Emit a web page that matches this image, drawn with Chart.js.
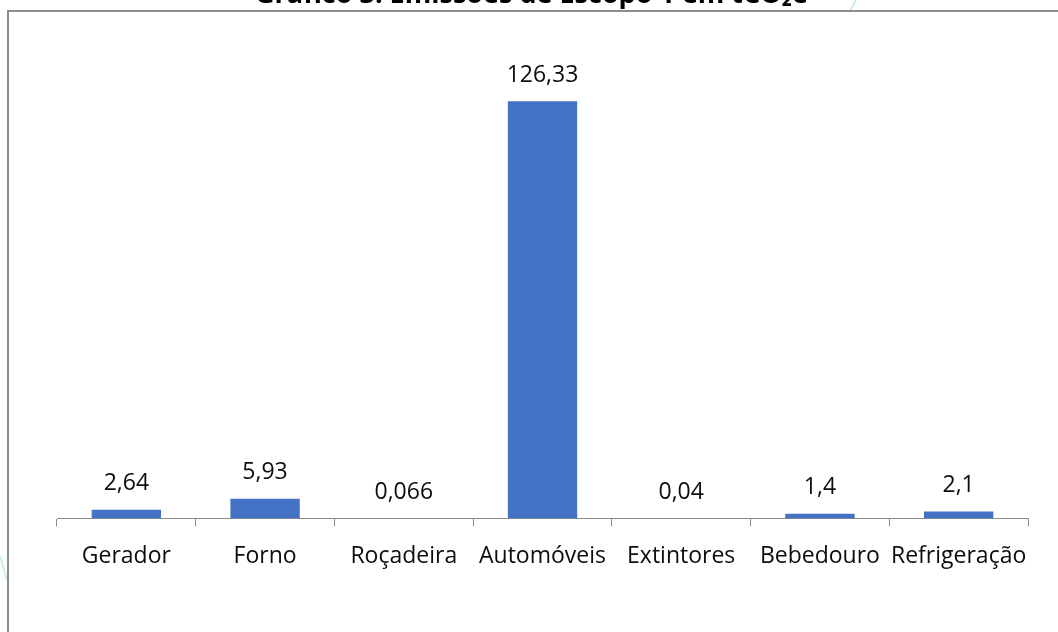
<!DOCTYPE html>
<html>
<head>
<meta charset="utf-8">
<script src="https://cdn.jsdelivr.net/npm/chart.js@4.4.1/dist/chart.umd.min.js"></script>
<style>
    body { margin: 0; background: #ffffff; width: 1058px; height: 632px; overflow: hidden; position: relative; }
    #wrap { position: absolute; left: 0; top: -20px; width: 1058px; height: 652px; }
    #frame { position: absolute; left: 7px; top: 10px; width: 1200px; height: 700px; border-left: 2px solid #8c8c8c; border-top: 2px solid #8c8c8c; }
    #deco { position: absolute; left: 0; top: 0; }
</style>
</head>
<body>
<svg id="deco" width="1058" height="632">
    <line x1="856" y1="0" x2="850" y2="11" stroke="#c8eeee" stroke-width="2"/>
    <line x1="0" y1="556" x2="7" y2="580" stroke="#c8eeee" stroke-width="2"/>
</svg>
<div id="frame"></div>
<div id="wrap"><canvas id="chart" width="1058" height="652"></canvas></div>
<script>
const categories = ["Gerador", "Forno", "Roçadeira", "Automóveis", "Extintores", "Bebedouro", "Refrigeração"];
const emissions = [2.64, 5.93, 0.066, 126.33, 0.04, 1.4, 2.1];
const valueLabels = ["2,64", "5,93", "0,066", "126,33", "0,04", "1,4", "2,1"];
const chartTitle = "Gráfico 3: Emissões de Escopo 1 em tCO₂e";

// writes the value above each bar, like excel "outside end"
const barLabels = {
    id: 'barLabels',
    afterDatasetsDraw(chart) {
        const ctx = chart.ctx;
        const bars = chart.getDatasetMeta(0).data;
        ctx.save();
        ctx.font = '23px "Open Sans"';
        ctx.fillStyle = '#0d0d0d';
        ctx.textAlign = 'center';
        ctx.textBaseline = 'middle';
        bars.forEach((bar, i) => {
            ctx.fillText(valueLabels[i], bar.x, bar.y - 26);
        });
        ctx.restore();
    }
};

const ctx = document.getElementById('chart').getContext('2d');
const emissionsChart = new Chart(ctx, {
    type: 'bar',
    data: {
        labels: categories,
        datasets: [{
            data: emissions,
            backgroundColor: '#4472c4',
            borderWidth: 0,
            barPercentage: 0.5,
            categoryPercentage: 1
        }]
    },
    options: {
        responsive: false,
        animation: false,
        layout: {
            padding: { left: 35, right: 30, top: 0, bottom: 46 }
        },
        plugins: {
            legend: { display: false },
            tooltip: { enabled: false },
            title: {
                display: true,
                text: chartTitle,
                color: '#000000',
                font: { family: '"Open Sans"', size: 27, weight: 'bold', lineHeight: 1 },
                padding: { top: 2, bottom: 47 }
            }
        },
        scales: {
            x: {
                grid: {
                    display: true,
                    drawOnChartArea: false,
                    drawTicks: true,
                    tickLength: 8,
                    color: '#8c8c8c',
                    offset: true
                },
                border: { display: true, color: '#8c8c8c', width: 1 },
                ticks: {
                    color: '#0d0d0d',
                    padding: 16,
                    maxRotation: 0,
                    autoSkip: false,
                    font: { family: '"Open Sans"', size: 23 }
                }
            },
            y: {
                // kept invisible, only takes space so the title centres like the original
                display: true,
                min: 0,
                max: 140,
                grid: { display: false },
                border: { display: false },
                ticks: { display: false },
                afterFit: function(scale) { scale.width = 22; }
            }
        }
    },
    plugins: [barLabels]
});
</script>
</body>
</html>
